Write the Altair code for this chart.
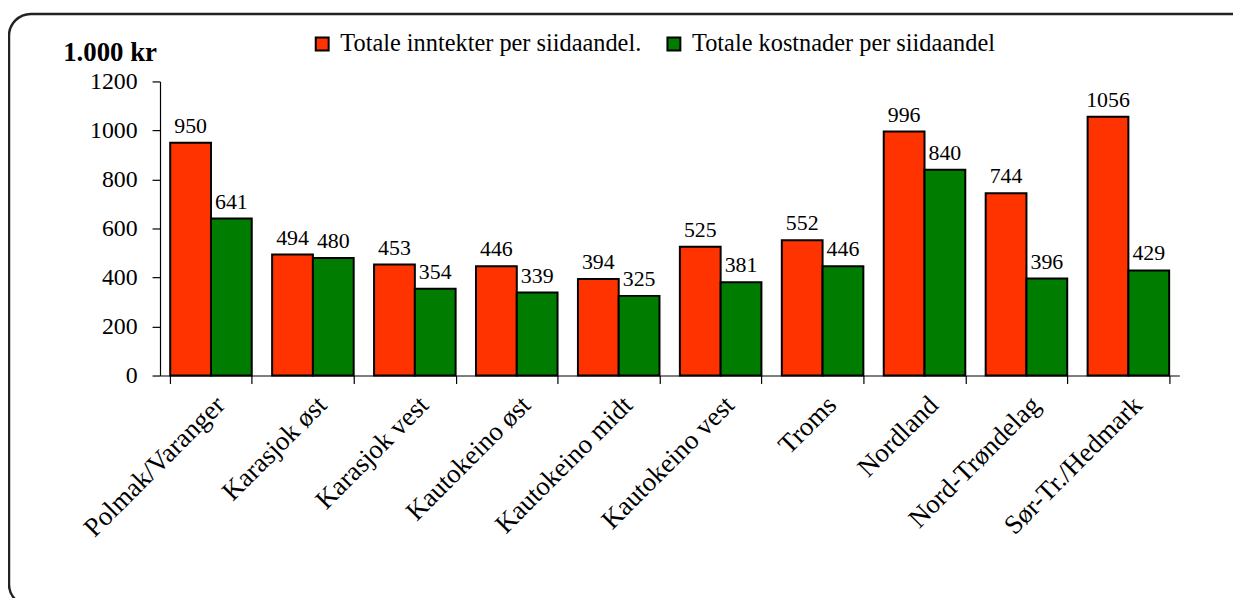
import altair as alt
import pandas as pd

categories = ["Polmak/Varanger", "Karasjok øst", "Karasjok vest", "Kautokeino øst",
              "Kautokeino midt", "Kautokeino vest", "Troms", "Nordland",
              "Nord-Trøndelag", "Sør-Tr./Hedmark"]
series_names = ["Totale inntekter per siidaandel.", "Totale kostnader per siidaandel"]
inntekter = [950, 494, 453, 446, 394, 525, 552, 996, 744, 1056]
kostnader = [641, 480, 354, 339, 325, 381, 446, 840, 396, 429]
colors = ["#FF3300", "#007D00"]
y_ticks = [0, 200, 400, 600, 800, 1000, 1200]

rows = []
for c, a, b in zip(categories, inntekter, kostnader):
    rows.append({"kategori": c, "serie": series_names[0], "verdi": a})
    rows.append({"kategori": c, "serie": series_names[1], "verdi": b})
df = pd.DataFrame(rows)

FONT = "Liberation Serif, Times New Roman, serif"

x_enc = alt.X("kategori:N", sort=categories,
              scale=alt.Scale(paddingInner=0.2, paddingOuter=0.1),
              axis=alt.Axis(title=None, labelAngle=-45, labelFont=FONT, labelFontSize=27,
                            labelColor="black", labelPadding=8, tickBand="extent",
                            tickSize=8, tickColor="black", domainColor="black",
                            domainWidth=1.2, tickWidth=1.2, labelLimit=400, grid=False))
xo_enc = alt.XOffset("serie:N", sort=series_names, scale=alt.Scale(paddingInner=0, paddingOuter=0))
y_enc = alt.Y("verdi:Q", scale=alt.Scale(domain=[0, 1200], nice=False),
              axis=alt.Axis(values=y_ticks, format="d", title="1.000 kr", titleAngle=0,
                            titleAlign="left", titleBaseline="alphabetic", titleX=-98, titleY=-21,
                            titleFont=FONT, titleFontSize=27, titleFontWeight="bold",
                            titleColor="black", labelFont=FONT, labelFontSize=24,
                            labelColor="black", labelPadding=15, tickSize=8,
                            tickColor="black", domainColor="black", domainWidth=1.2,
                            tickWidth=1.2, grid=False))

base = alt.Chart(df)

bars = base.mark_bar(stroke="black", strokeWidth=2).encode(
    x=x_enc, xOffset=xo_enc, y=y_enc,
    color=alt.Color("serie:N", sort=series_names,
                    scale=alt.Scale(domain=series_names, range=colors),
                    legend=alt.Legend(title=None, orient="none", legendX=151, legendY=-50,
                                      direction="horizontal", symbolType="square",
                                      symbolSize=169, symbolStrokeColor="black",
                                      symbolStrokeWidth=2, symbolOpacity=1,
                                      labelFont=FONT, labelFontSize=24.5, labelColor="black",
                                      labelOffset=6, columnPadding=20, labelLimit=500)),
)

labels = base.mark_text(baseline="bottom", dy=-5, font=FONT, fontSize=22, color="black").encode(
    x=alt.X("kategori:N", sort=categories), xOffset=alt.XOffset("serie:N", sort=series_names),
    y="verdi:Q", text="verdi:Q",
)

frame = alt.Chart(pd.DataFrame({"f": [0]})).mark_rect(
    fill="transparent", stroke="#222222", strokeWidth=2.5, cornerRadius=22
).encode(x=alt.value(-152), x2=alt.value(1100), y=alt.value(-68), y2=alt.value(528))

chart = alt.layer(frame, bars, labels).properties(
    width=1026, height=296,
    autosize=alt.AutoSizeParams(type="none"),
    padding={"left": 153, "top": 72, "right": 54, "bottom": 222},
).configure_view(stroke=None)

chart.save("out.html", embed_options={"renderer": "svg", "actions": False})
